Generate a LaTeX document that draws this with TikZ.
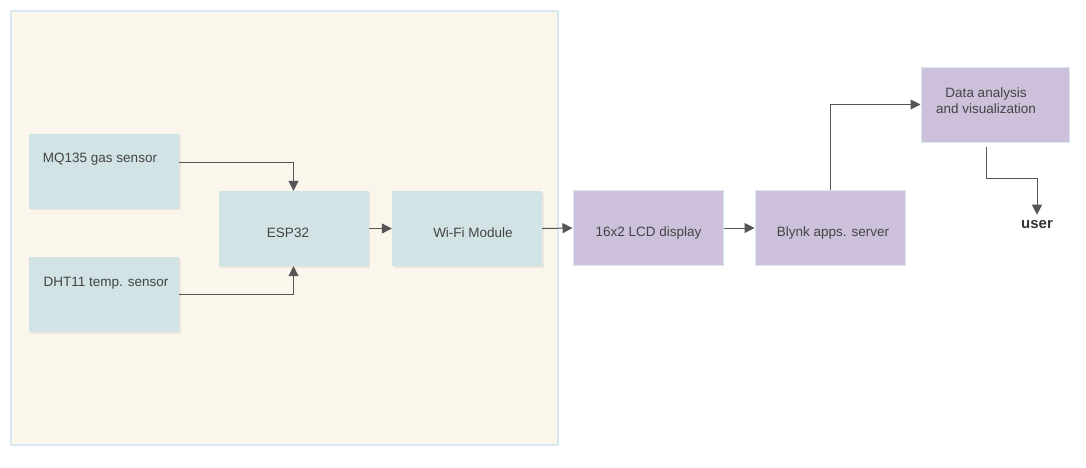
\documentclass[tikz,border=0pt]{standalone}
\usepackage{fontspec}
\setmainfont{Liberation Sans}
\usetikzlibrary{arrows.meta,shadows}
\definecolor{bluebox}{HTML}{D2E3E6}
\definecolor{purplebox}{HTML}{CCC0DA}
\definecolor{cream}{HTML}{FAF6EC}
\definecolor{edgeblue}{HTML}{D8E8F3}
\definecolor{txt}{HTML}{444444}
\definecolor{arr}{HTML}{555555}
\tikzset{
  base/.style={rectangle, inner sep=0pt, minimum width=150pt, minimum height=75pt},
  bluebox/.style={base, fill=bluebox, drop shadow={opacity=0.12, shadow xshift=1.5pt, shadow yshift=-1.5pt}},
  purplebox/.style={base, fill=purplebox, draw=edgeblue, line width=1pt},
  lbl/.style={text=txt, inner sep=0pt, font=\fontsize{13.5}{16}\selectfont},
  conn/.style={draw=arr, line width=1pt, -{Triangle[length=10pt,width=10pt]}},
}
\begin{document}
\begin{tikzpicture}[x=1pt,y=-1pt]
\useasboundingbox (0,0) rectangle (1086,467);
\node[rectangle, inner sep=0pt, fill=cream, draw=edgeblue, line width=1.2pt,
      minimum width=547pt, minimum height=434pt] (container) at (284.5,228) {};

\node[bluebox] (mq) at (104,171) {};
\node[bluebox] (dht) at (104,294.5) {};
\node[bluebox] (esp) at (293.5,228.5) {};
\node[bluebox] (wifi) at (467,228.5) {};
\node[purplebox] (lcd) at (648,228) {};
\node[purplebox] (blynk) at (830,228) {};
\node[purplebox, minimum width=148pt] (data) at (995,104.5) {};

\node[lbl] (mqt) at (100,159) {MQ135 gas sensor};
\node[lbl] (dhtt) at (106,283) {DHT11 temp. sensor};
\node[lbl] (espt) at (288,233) {ESP32};
\node[lbl] (wifit) at (473,233) {Wi-Fi Module};
\node[lbl] (lcdt) at (648.5,233) {16x2 LCD display};
\node[lbl] (blynkt) at (833,233) {Blynk apps. server};
\node[lbl, align=center] (datat) at (986,101) {Data analysis\\and visualization};
\node[text=black!80, inner sep=0pt, font=\fontsize{15}{18}\bfseries\selectfont] (user) at (1037,225) {user};

\draw[conn] ([yshift=9pt]mq.east) -| (esp.north);
\draw[conn] (dht.east) -| (esp.south);
\draw[conn] (esp.east) -- (wifi.west);
\draw[conn] (wifi.east) -- (lcd.west);
\draw[conn] (lcd.east) -- (blynk.west);
\draw[conn] (blynk.north) |- (data.west);
\draw[conn, shorten >=6pt] ([xshift=-9pt,yshift=-4pt]data.south) -- ++(0,-32pt) -| (user.north);
\end{tikzpicture}
\end{document}
